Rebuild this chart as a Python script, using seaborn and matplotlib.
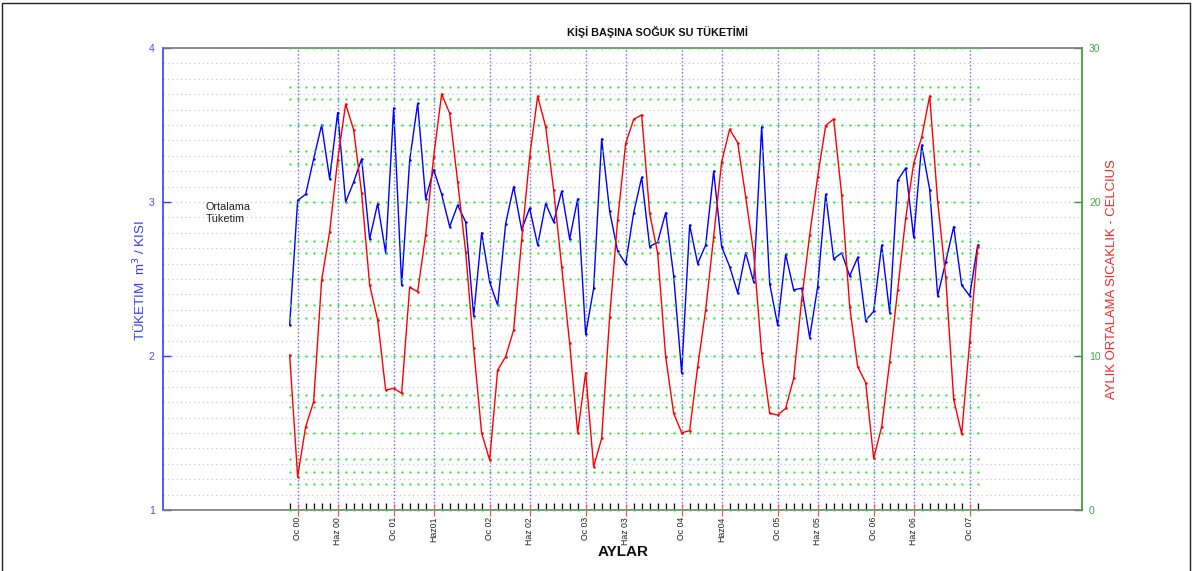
import numpy as np
import pandas as pd
import matplotlib
matplotlib.use("Agg")
import matplotlib.pyplot as plt
import seaborn as sns
from matplotlib.patches import Rectangle

# ---------------- data ----------------
# month index: 0 = Aralik 1999 ... 86 = Subat 2007
months = list(range(87))
consumption = [2.20, 3.01, 3.05, 3.28, 3.50, 3.15, 3.58, 3.00, 3.13, 3.28, 2.76, 2.99,
               2.67, 3.61, 2.46, 3.27, 3.64, 3.02, 3.21, 3.05, 2.84, 2.98, 2.87, 2.26,
               2.80, 2.48, 2.33, 2.86, 3.10, 2.82, 2.96, 2.72, 2.99, 2.87, 3.07, 2.76,
               3.02, 2.14, 2.44, 3.41, 2.94, 2.68, 2.60, 2.93, 3.16, 2.71, 2.74, 2.93,
               2.52, 1.89, 2.85, 2.60, 2.72, 3.20, 2.71, 2.58, 2.41, 2.67, 2.48, 3.49,
               2.47, 2.20, 2.66, 2.43, 2.44, 2.12, 2.45, 3.05, 2.63, 2.67, 2.52, 2.64,
               2.23, 2.29, 2.72, 2.28, 3.14, 3.22, 2.77, 3.37, 3.08, 2.39, 2.61, 2.84,
               2.46, 2.39, 2.72]
temperature = [10.06, 2.16, 5.41, 7.03, 14.94, 18.07, 22.73, 26.36, 24.68, 20.56, 14.61, 12.34,
               7.79, 7.90, 7.58, 14.46, 14.18, 17.86, 22.94, 27.01, 25.76, 21.32, 16.77, 10.50,
               4.98, 3.25, 9.09, 9.96, 11.69, 17.53, 22.94, 26.88, 24.89, 20.78, 15.80, 10.82,
               5.02, 8.92, 2.81, 4.65, 12.55, 18.83, 23.81, 25.37, 25.65, 19.26, 16.67, 9.96,
               6.28, 5.02, 5.15, 9.31, 12.99, 17.75, 22.62, 24.72, 23.85, 20.35, 16.67, 10.17,
               6.28, 6.17, 6.60, 8.55, 13.64, 17.86, 21.65, 24.96, 25.39, 20.45, 13.20, 9.31,
               8.27, 3.35, 5.41, 9.63, 14.29, 18.94, 22.51, 24.20, 26.88, 20.02, 15.15, 7.19,
               4.94, 10.93, 17.10]
label_months = [1, 6, 13, 18, 25, 30, 37, 42, 49, 54, 61, 66, 73, 78, 85]
label_texts = ["Oc 00", "Haz 00", "Oc 01", "Haz01", "Oc 02", "Haz 02", "Oc 03", "Haz 03",
               "Oc 04", "Haz04", "Oc 05", "Haz 05", "Oc 06", "Haz 06", "Oc 07"]
green_levels = [0, 1.667, 2.5, 3.333, 5, 6.667, 7.5, 10, 12.5, 13.333, 15, 16.667, 17.5,
                20, 22.5, 23.333, 25, 26.667, 27.5, 30]

df = pd.DataFrame({"ay": months, "tuketim": consumption, "sicaklik": temperature})

# ---------------- style ----------------
sns.set_style("white")
plt.rcParams["font.family"] = ["Liberation Sans", "DejaVu Sans"]

W, H = 1195, 571
fig = plt.figure(figsize=(W / 100, H / 100), dpi=100)
ax = fig.add_axes([163 / W, 1 - 510 / H, (1082 - 163) / W, (510 - 48) / H])
ax2 = ax.twinx()

XMIN, XMAX = -15.83, 99.04
ax.set_xlim(XMIN, XMAX)
ax.set_ylim(1, 4)
ax2.set_ylim(0, 30)

# grid: lavender horizontals every 0.1
ax.set_yticks([1, 2, 3, 4])
ax.set_yticks(np.arange(1.1, 4.0, 0.1), minor=True)
ax.grid(which="both", axis="y", color="#c4c4f2", linestyle=(0, (1, 2.5)), linewidth=0.9)
# blue dotted verticals at label months
ax.set_xticks(label_months)
ax.set_xticks(months, minor=True)
ax.grid(which="major", axis="x", color="#6a6aee", linestyle=(0, (1, 1.6)), linewidth=1.0)
ax.set_axisbelow(True)

# green dotted level rows (monthly dots)
gx, gy = np.meshgrid(months, green_levels)
ax2.scatter(gx.ravel(), gy.ravel(), s=2.6, color="#22ee22", linewidths=0, zorder=2.6,
            clip_on=False)

# lines
sns.lineplot(data=df, x="ay", y="tuketim", ax=ax, color="#0000ff", linewidth=1.0,
             marker="o", markersize=1.8, markeredgewidth=0, zorder=3)
sns.lineplot(data=df, x="ay", y="sicaklik", ax=ax2, color="#ff0000", linewidth=1.0,
             marker="o", markersize=1.8, markeredgewidth=0, zorder=3)
ax2.set_xlim(XMIN, XMAX)

# spines
for a in (ax, ax2):
    for s in a.spines.values():
        s.set_visible(False)
ax2.spines["top"].set_visible(True)
ax2.spines["top"].set_color("#7a7a7a")
ax2.spines["bottom"].set_visible(True)
ax2.spines["bottom"].set_color("#7a7a7a")
ax2.spines["left"].set_visible(True)
ax2.spines["left"].set_color("#3a3aff")
ax2.spines["right"].set_visible(True)
ax2.spines["right"].set_color("#2e9a2e")
for s in ax2.spines.values():
    s.set_linewidth(1.2)

# ticks
ax.tick_params(axis="y", which="major", left=True, right=False, direction="in", length=6,
               width=1, color="#3a3aff", labelcolor="#4d4dff", labelsize=7.5, pad=6)
ax.tick_params(axis="y", which="minor", left=False, right=False, length=0)
ax.set_yticklabels(["1", "2", "3", "4"])
ax2.set_yticks([0, 10, 20, 30])
ax2.tick_params(axis="y", right=True, left=False, direction="in", length=6, width=1,
                color="#2e9a2e", labelcolor="#44aa44", labelsize=7.5, pad=5)
ax.tick_params(axis="x", which="minor", bottom=True, top=False, direction="in", length=5,
               width=0.9, color="black")
ax.tick_params(axis="x", which="major", bottom=True, top=False, direction="inout", length=8,
               width=0.9, color="#ff5050", labelsize=6.3, labelcolor="#222222", pad=1)
ax.set_xticklabels(label_texts, rotation=90, va="top", ha="center")
ax2.tick_params(axis="x", bottom=False, top=False, labelbottom=False)

ax.set_xlabel("")
ax.set_ylabel("")
ax2.set_ylabel("")

# texts
fig.text(657 / W, 1 - 32 / H, "KİŞİ BAŞINA SOĞUK SU TÜKETİMİ", ha="center", va="center",
         fontsize=7.8, fontweight="bold", color="#111111")
fig.text(623 / W, 1 - 552 / H, "AYLAR", ha="center", va="center",
         fontsize=11, fontweight="bold", color="#111111")
fig.text(140 / W, 1 - 281 / H, "TÜKETIM  m$^3$ / KISI", rotation=90, ha="center", va="center",
         fontsize=9.6, color="#3a3aff")
fig.text(1112 / W, 1 - 279 / H, "AYLIK ORTALAMA SICAKLIK - CELCIUS", rotation=90,
         ha="center", va="center", fontsize=9.4, color="#ff2020")
fig.text(206 / W, 1 - 213 / H, "Ortalama\nTüketim", ha="left", va="center",
         fontsize=7.8, color="#222222", linespacing=1.25)

# figure frame
fig.patches.append(Rectangle((2 / W, -0.01), (1190 - 2) / W, 1 - 3 / H + 0.01,
                             transform=fig.transFigure, fill=False, edgecolor="#222222",
                             linewidth=1.0))

fig.savefig("out.png", dpi=100)
